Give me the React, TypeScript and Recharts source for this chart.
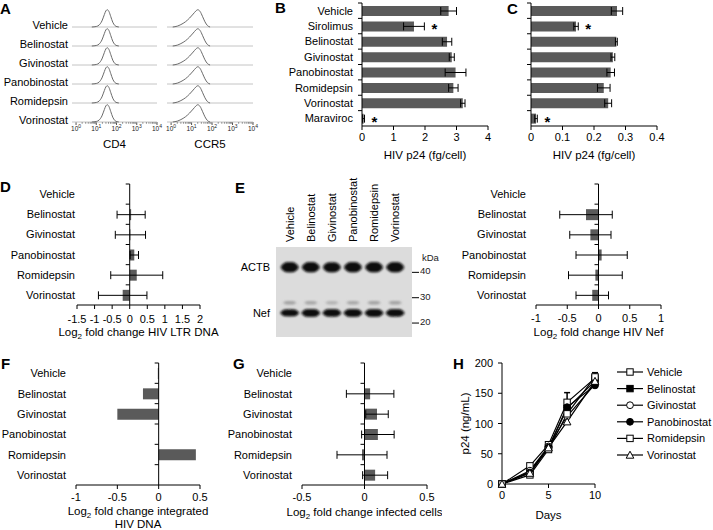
import React from 'react'
import {
  Bar,
  BarChart,
  ErrorBar,
  Label,
  LabelList,
  Line,
  LineChart,
  ReferenceArea,
  ReferenceLine,
  Scatter,
  ScatterChart,
  XAxis,
  YAxis,
} from 'recharts'

const FONT = '"Liberation Sans", Arial, Helvetica, sans-serif'
const BAR_FILL = '#5a5a5a'

// --- A: flow histograms (relative counts)
const treatments = ['Vehicle', 'Belinostat', 'Givinostat', 'Panobinostat', 'Romidepsin', 'Vorinostat']
const cd4X = [6, 10, 14, 19, 25, 30, 35, 42, 52, 65, 82, 105, 130]
const cd4Y = [0, 3, 12, 35, 72, 94, 100, 90, 60, 28, 9, 2, 0]
const ccr5X = [1.2, 2, 3, 5, 8, 12, 16, 20, 26, 34, 45, 60, 80]
const ccr5Y = [0, 5, 14, 30, 52, 75, 92, 100, 90, 62, 30, 8, 0]
const logMajor = [1, 10, 100, 1000, 10000]
const logMinorSteps = [2, 3, 4, 5, 6, 7, 8, 9]

// --- B, C: p24
const groupsBC = ['Vehicle', 'Sirolimus', 'Belinostat', 'Givinostat', 'Panobinostat', 'Romidepsin', 'Vorinostat', 'Maraviroc']
const p24Mean = [2.75, 1.65, 2.7, 2.85, 2.97, 2.9, 3.2, 0.05]
const p24Sem = [0.25, 0.33, 0.15, 0.08, 0.33, 0.15, 0.07, 0.03]
const p24CellMean = [0.273, 0.143, 0.271, 0.26, 0.253, 0.231, 0.245, 0.016]
const p24CellSem = [0.018, 0.007, 0.003, 0.006, 0.012, 0.02, 0.011, 0.004]
const significant = ['Sirolimus', 'Maraviroc']

// --- D, E, F, G: log2 fold changes vs vehicle
const ltrMean = [0, 0.04, 0.02, 0.13, 0.2, -0.2]
const ltrErr = [0, 0.4, 0.43, 0.12, 0.74, 0.69]
const nefMean = [0, -0.2, -0.13, 0.05, -0.05, -0.1]
const nefErr = [0, 0.42, 0.33, 0.41, 0.43, 0.26]
const integratedMean = [-0.01, -0.19, -0.5, 0, 0.45, 0]
const infectedMean = [0, 0.045, 0.1, 0.107, -0.02, 0.085]
const infectedErr = [0, 0.19, 0.09, 0.13, 0.2, 0.1]

// --- E: western blot
const bandNames = ['ACTB', 'Nef']
const bandKda = [42, 24]
const upperNefKda = 28
const markerKda = [40, 30, 20]
const actbLevel = [1, 1, 0.95, 1, 1, 1]
const nefLevel = [0.7, 1, 0.9, 1, 1, 0.95]
const upperNefLevel = [0.45, 0.4, 0.3, 0.4, 0.45, 0.45]

// --- H: p24 over time
const days = [0, 3, 5, 7, 10]
const hVehicle = [0, 30, 65, 135, 175]
const hBelinostat = [0, 20, 60, 125, 170]
const hGivinostat = [0, 22, 62, 112, 165]
const hPanobinostat = [0, 19, 60, 127, 163]
const hRomidepsin = [0, 15, 57, 116, 177]
const hVorinostat = [0, 18, 60, 103, 170]
const hVehicleErr = [0, 3, 4, 16, 9]
const hNames = ['Vehicle', 'Belinostat', 'Givinostat', 'Panobinostat', 'Romidepsin', 'Vorinostat']
const hMarkers = ['sqOpen', 'sqFill', 'ciOpen', 'ciFill', 'sqOpen', 'triOpen']

type Row = { name: string; v: number; e?: number; star?: boolean }

const LOG_DOMAIN: [number, number] = [0.63, 10000]
const logTicks = [
  ...logMajor,
  ...logMajor.slice(0, -1).flatMap((d) => logMinorSteps.map((m) => d * m)),
].sort((a, b) => a - b)

function TitleText({ x, y, line }: { x: number; y: number; line: string }) {
  if (line.startsWith('Log2')) {
    return (
      <text x={x} y={y} textAnchor="middle" fontSize={11.5} fill="#000">
        Log
        <tspan dy={3} fontSize={8}>2</tspan>
        <tspan dy={-3}>{line.slice(4)}</tspan>
      </text>
    )
  }
  return (
    <text x={x} y={y} textAnchor="middle" fontSize={11.5} fill="#000">
      {line}
    </text>
  )
}

// x-axis title, centred under the plot; dy is the centre of the first line below the axis
const titleContent = (lines: string[], dy: number, gap = 13) => (p: any) => {
  const vb = p.viewBox
  const cx = vb.x + vb.width / 2
  return (
    <g>
      {lines.map((l, i) => (
        <TitleText key={l} x={cx} y={vb.y + dy + 4 + i * gap} line={l} />
      ))}
    </g>
  )
}

const LogTick = (p: any) => {
  const v = p.payload.value
  const e = Math.log10(v)
  const major = Math.abs(e - Math.round(e)) < 1e-6
  return (
    <g>
      <line x1={p.x} x2={p.x} y1={p.y} y2={p.y + (major ? 3 : 1.5)} stroke="#555" />
      {major && (
        <text x={p.x} y={p.y + 9} textAnchor="middle" fontSize={6.5} fill="#222">
          10
          <tspan dy={-3} fontSize={5}>
            {Math.round(e)}
          </tspan>
        </text>
      )}
    </g>
  )
}

const XNumTick = (p: any) => (
  <text x={p.x} y={p.y + 8} textAnchor="middle" fontSize={11} fill="#000">
    {p.payload.value}
  </text>
)

const YNumTick = (p: any) => (
  <text x={p.x} y={p.y + 4} textAnchor="end" fontSize={11} fill="#000">
    {p.payload.value}
  </text>
)

const NameTick = (p: any) => (
  <text x={p.x} y={p.y + 4} textAnchor="end" fontSize={11} fill="#000">
    {p.payload.value}
  </text>
)

// vertical axis drawn at x = 0, with ticks between categories
const zeroAxis = (n: number) => (p: any) => {
  const x = p.x1
  const top = Math.min(p.y1, p.y2)
  const bot = Math.max(p.y1, p.y2)
  const band = (bot - top) / n
  return (
    <g>
      <line x1={x} x2={x} y1={top} y2={bot} stroke="#000" />
      {Array.from({ length: n }, (_, i) => (
        <line key={i} x1={x - 4} x2={x} y1={top + i * band} y2={top + i * band} stroke="#000" />
      ))}
    </g>
  )
}

const starLabel = (rows: Row[], gap: number) => (p: any) => {
  const r = rows.find((d) => d.name === p.value)
  if (!r || !r.star) return null
  const vb = p.viewBox ?? p
  const ppu = vb.width / r.v
  const cx = vb.x + (r.v + (r.e ?? 0)) * ppu + gap
  return (
    <text x={cx} y={vb.y + vb.height / 2 + 8} textAnchor="middle" fontSize={15} fontWeight="bold" fill="#000">
      *
    </text>
  )
}

interface HBarProps {
  left: number
  top: number
  width: number
  height: number
  margin: { top: number; right: number; bottom: number; left: number }
  yw: number
  xh: number
  rows: Row[]
  domain: [number, number]
  ticks: number[]
  barSize: number
  showNames?: boolean
  nameGap?: number
  tickGap: number
  title: string[]
  titleDy: number
  titleGap?: number
  errors?: boolean
  stars?: boolean
}

function HBar({
  left,
  top,
  width,
  height,
  margin,
  yw,
  xh,
  rows,
  domain,
  ticks,
  barSize,
  showNames = true,
  nameGap = 2,
  tickGap,
  title,
  titleDy,
  titleGap = 13,
  errors = true,
  stars = false,
}: HBarProps) {
  return (
    <div style={{ position: 'absolute', left, top }}>
      <BarChart width={width} height={height} data={rows} layout="vertical" margin={margin} barCategoryGap={0}>
        <XAxis
          type="number"
          domain={domain}
          ticks={ticks}
          interval={0}
          allowDataOverflow
          height={xh}
          tickSize={4}
          tickMargin={tickGap}
          axisLine={{ stroke: '#000' }}
          tickLine={{ stroke: '#000' }}
          tick={XNumTick}
        >
          <Label content={titleContent(title, titleDy, titleGap)} />
        </XAxis>
        <YAxis
          type="category"
          dataKey="name"
          width={yw}
          hide={!showNames}
          axisLine={false}
          tickLine={false}
          tickSize={0}
          tickMargin={nameGap}
          interval={0}
          tick={NameTick}
        />
        <Bar dataKey="v" fill={BAR_FILL} barSize={barSize} isAnimationActive={false}>
          {errors && <ErrorBar dataKey="e" width={4} stroke="#000" strokeWidth={1} direction="x" />}
          {stars && <LabelList dataKey="name" content={starLabel(rows, 10)} />}
        </Bar>
        <ReferenceLine x={0} shape={zeroAxis(rows.length)} ifOverflow="visible" />
      </BarChart>
    </div>
  )
}

function HistPanel({ left, width, xs, ys, title }: { left: number; width: number; xs: number[]; ys: number[]; title: string }) {
  const curve = xs.map((x, i) => ({ x, y: ys[i] }))
  return (
    <>
      <div style={{ position: 'absolute', left: left - 8, top: 0 }}>
        <LineChart width={width + 16} height={157} data={curve} margin={{ top: 5, right: 8, bottom: 0, left: 8 }}>
          <XAxis
            type="number"
            dataKey="x"
            scale="log"
            domain={LOG_DOMAIN}
            allowDataOverflow
            ticks={logTicks}
            interval={0}
            tickSize={0}
            tickMargin={0}
            axisLine={false}
            tickLine={false}
            tick={LogTick}
            height={35}
          >
            <Label content={titleContent([title], 22)} />
          </XAxis>
          <YAxis hide type="number" domain={[0, 1]} />
          <ReferenceArea
            x1={LOG_DOMAIN[0]}
            x2={LOG_DOMAIN[1]}
            y1={0}
            y2={1}
            fill="none"
            stroke="#444"
            ifOverflow="visible"
          />
        </LineChart>
      </div>
      {treatments.map((t, i) => (
        <div key={t} style={{ position: 'absolute', left, top: 8 + 19 * i }}>
          <LineChart width={width} height={20} data={curve} margin={{ top: 0, right: 0, bottom: 1, left: 0 }}>
            <XAxis hide type="number" dataKey="x" scale="log" domain={LOG_DOMAIN} allowDataOverflow />
            <YAxis hide type="number" domain={[0, 110]} />
            <ReferenceLine y={0} stroke="#c4c4c4" />
            <Line dataKey="y" type="monotone" stroke="#6a6a6a" strokeWidth={1} dot={false} isAnimationActive={false} />
          </LineChart>
        </div>
      ))}
    </>
  )
}

function Marker({ kind, cx, cy }: { kind: string; cx: number; cy: number }) {
  if (cx == null || cy == null) return null
  switch (kind) {
    case 'sqFill':
      return <rect x={cx - 3.2} y={cy - 3.2} width={6.4} height={6.4} fill="#000" stroke="#000" />
    case 'ciOpen':
      return <circle cx={cx} cy={cy} r={3.4} fill="#fff" stroke="#000" />
    case 'ciFill':
      return <circle cx={cx} cy={cy} r={3.4} fill="#000" stroke="#000" />
    case 'triOpen':
      return (
        <polygon
          points={`${cx},${cy - 3.8} ${cx + 3.8},${cy + 3.2} ${cx - 3.8},${cy + 3.2}`}
          fill="#fff"
          stroke="#000"
        />
      )
    default:
      return <rect x={cx - 3.2} y={cy - 3.2} width={6.4} height={6.4} fill="#fff" stroke="#000" />
  }
}

const LaneTick = (p: any) => (
  <text
    x={p.x}
    y={p.y}
    transform={`rotate(-90 ${p.x} ${p.y})`}
    textAnchor="start"
    dominantBaseline="central"
    fontSize={11}
    fill="#000"
  >
    {treatments[p.payload.value]}
  </text>
)

const BandTick = (p: any) => (
  <text x={p.x} y={p.y + 4} textAnchor="end" fontSize={11} fill="#000">
    {bandNames[bandKda.indexOf(p.payload.value)]}
  </text>
)

const MarkerTick = (p: any) => (
  <text x={p.x} y={p.y + 2} textAnchor="start" fontSize={9.5} fill="#222">
    {p.payload.value}
  </text>
)

const bandShape = (w: number, h: number, color: string, scaleHeight: boolean) => (p: any) => {
  const lvl = p.payload.level
  const hh = scaleHeight ? h * (0.6 + 0.4 * lvl) : h
  return (
    <g filter="url(#blotSoft)">
      <ellipse cx={p.cx} cy={p.cy} rx={w / 2} ry={hh / 2} fill={color} fillOpacity={scaleHeight ? 0.9 : lvl} />
      <rect
        x={p.cx - w / 2 + 2}
        y={p.cy - hh / 2}
        width={w - 4}
        height={hh}
        rx={hh / 2.4}
        fill={color}
        fillOpacity={scaleHeight ? 1 : lvl}
      />
    </g>
  )
}

function Letter({ ch, left, top }: { ch: string; left: number; top: number }) {
  return (
    <div style={{ position: 'absolute', left, top, fontSize: 15, fontWeight: 'bold', lineHeight: '15px' }}>{ch}</div>
  )
}

export default function App() {
  const rowsB: Row[] = groupsBC.map((name, i) => ({
    name,
    v: p24Mean[i],
    e: p24Sem[i],
    star: significant.includes(name),
  }))
  const rowsC: Row[] = groupsBC.map((name, i) => ({
    name,
    v: p24CellMean[i],
    e: p24CellSem[i],
    star: significant.includes(name),
  }))
  const rowsD: Row[] = treatments.map((name, i) => ({ name, v: ltrMean[i], e: ltrErr[i] }))
  const rowsE: Row[] = treatments.map((name, i) => ({ name, v: nefMean[i], e: nefErr[i] }))
  const rowsF: Row[] = treatments.map((name, i) => ({ name, v: integratedMean[i] }))
  const rowsG: Row[] = treatments.map((name, i) => ({ name, v: infectedMean[i], e: infectedErr[i] }))

  const actbPts = treatments.map((_, i) => ({ lane: i, kda: bandKda[0], level: actbLevel[i] }))
  const nefPts = treatments.map((_, i) => ({ lane: i, kda: bandKda[1], level: nefLevel[i] }))
  const upperPts = treatments.map((_, i) => ({ lane: i, kda: upperNefKda, level: upperNefLevel[i] }))

  const hSeriesValues = [hVehicle, hBelinostat, hGivinostat, hPanobinostat, hRomidepsin, hVorinostat]
  const hTable = days.map((day, i) => {
    const row: Record<string, number> = { day, VehicleErr: hVehicleErr[i] }
    hNames.forEach((n, k) => {
      row[n] = hSeriesValues[k][i]
    })
    return row
  })

  const fgMargin = { top: 13, right: 15, bottom: 0, left: 0 }

  return (
    <div
      style={{
        position: 'fixed',
        left: 0,
        top: 0,
        width: 713,
        height: 530,
        background: '#fff',
        overflow: 'hidden',
        fontFamily: FONT,
        color: '#000',
      }}
    >
      <svg width={0} height={0} style={{ position: 'absolute' }}>
        <defs>
          <filter id="blotSoft" x="-20%" y="-60%" width="140%" height="220%">
            <feGaussianBlur stdDeviation="0.8" />
          </filter>
        </defs>
      </svg>

      <Letter ch="A" left={0} top={1} />
      <Letter ch="B" left={275} top={0} />
      <Letter ch="C" left={507} top={1} />
      <Letter ch="D" left={0} top={179} />
      <Letter ch="E" left={235} top={180} />
      <Letter ch="F" left={1} top={356} />
      <Letter ch="G" left={233} top={356} />
      <Letter ch="H" left={453} top={356} />

      {/* A */}
      {treatments.map((t, i) => (
        <div
          key={t}
          style={{
            position: 'absolute',
            left: 0,
            width: 68,
            top: 25 + 19 * i - 7,
            textAlign: 'right',
            fontSize: 11,
            lineHeight: '14px',
            whiteSpace: 'nowrap',
          }}
        >
          {t}
        </div>
      ))}
      <HistPanel left={72} width={85} xs={cd4X} ys={cd4Y} title="CD4" />
      <HistPanel left={167} width={86} xs={ccr5X} ys={ccr5Y} title="CCR5" />

      {/* B */}
      <HBar
        left={262}
        top={0}
        width={238}
        height={166}
        margin={{ top: 3, right: 12, bottom: 0, left: 0 }}
        yw={100}
        xh={40}
        rows={rowsB}
        domain={[0, 4]}
        ticks={[0, 1, 2, 3, 4]}
        barSize={10}
        nameGap={9}
        tickGap={3}
        title={['HIV p24 (fg/cell)']}
        titleDy={29}
        stars
      />

      {/* C */}
      <HBar
        left={511}
        top={0}
        width={161}
        height={166}
        margin={{ top: 3, right: 15, bottom: 0, left: 20 }}
        yw={0}
        xh={40}
        rows={rowsC}
        domain={[0, 0.4]}
        ticks={[0, 0.1, 0.2, 0.3, 0.4]}
        barSize={10}
        showNames={false}
        tickGap={3}
        title={['HIV p24 (fg/cell)']}
        titleDy={29}
        stars
      />

      {/* D */}
      <HBar
        left={0}
        top={170}
        width={240}
        height={180}
        margin={{ top: 14, right: 40, bottom: 0, left: 0 }}
        yw={77}
        xh={45}
        rows={rowsD}
        domain={[-1.5, 2]}
        ticks={[-1.5, -1, -0.5, 0, 0.5, 1, 1.5, 2]}
        barSize={11}
        nameGap={2}
        tickGap={6}
        title={['Log2 fold change HIV LTR DNA']}
        titleDy={27}
      />

      {/* E blot */}
      <div style={{ position: 'absolute', left: 236, top: 170 }}>
        <ScatterChart width={206} height={172} margin={{ top: 0, right: 0, bottom: 5, left: 0 }}>
          <XAxis
            type="number"
            dataKey="lane"
            orientation="top"
            domain={[-0.65, 5.8]}
            ticks={[0, 1, 2, 3, 4, 5]}
            interval={0}
            allowDataOverflow
            height={77}
            axisLine={false}
            tickLine={false}
            tickSize={0}
            tickMargin={5}
            tick={LaneTick}
          />
          <YAxis
            yAxisId="l"
            type="number"
            dataKey="kda"
            domain={[14.5, 50]}
            ticks={bandKda}
            interval={0}
            allowDataOverflow
            width={40}
            axisLine={false}
            tickLine={false}
            tickSize={0}
            tickMargin={6}
            tick={BandTick}
          />
          <YAxis
            yAxisId="r"
            orientation="right"
            type="number"
            dataKey="kda"
            domain={[14.5, 50]}
            ticks={markerKda}
            interval={0}
            allowDataOverflow
            width={30}
            axisLine={false}
            tickLine={{ stroke: '#000' }}
            tickSize={7}
            tickMargin={1}
            tick={MarkerTick}
          >
            <Label
              content={(p: any) => (
                <text x={p.viewBox.x + 10} y={p.viewBox.y + 14} fontSize={9.5} fill="#222">
                  kDa
                </text>
              )}
            />
          </YAxis>
          <ReferenceArea
            yAxisId="r"
            x1={-0.65}
            x2={5.8}
            y1={14.5}
            y2={50}
            fill="#dcdcdc"
            fillOpacity={1}
            stroke="none"
          />
          <Scatter yAxisId="r" data={upperPts} shape={bandShape(14, 3.5, '#8a8a8a', false)} isAnimationActive={false} />
          <Scatter yAxisId="r" data={actbPts} shape={bandShape(18, 10, '#0b0b0b', true)} isAnimationActive={false} />
          <Scatter yAxisId="r" data={nefPts} shape={bandShape(19, 7.5, '#0b0b0b', true)} isAnimationActive={false} />
        </ScatterChart>
      </div>

      {/* E Nef */}
      <HBar
        left={440}
        top={170}
        width={236}
        height={180}
        margin={{ top: 14, right: 15, bottom: 0, left: 0 }}
        yw={96}
        xh={45}
        rows={rowsE}
        domain={[-1, 1]}
        ticks={[-1, -0.5, 0, 0.5, 1]}
        barSize={11}
        nameGap={10}
        tickGap={5}
        title={['Log2 fold change HIV Nef']}
        titleDy={27}
      />

      {/* F */}
      <HBar
        left={0}
        top={350}
        width={215}
        height={180}
        margin={fgMargin}
        yw={76}
        xh={45}
        rows={rowsF}
        domain={[-1, 0.5]}
        ticks={[-1, -0.5, 0, 0.5]}
        barSize={11}
        nameGap={10}
        tickGap={4}
        title={['Log2 fold change integrated', 'HIV DNA']}
        titleDy={26}
        titleGap={13}
        errors={false}
      />

      {/* G */}
      <HBar
        left={206}
        top={350}
        width={236}
        height={180}
        margin={fgMargin}
        yw={96}
        xh={45}
        rows={rowsG}
        domain={[-0.5, 0.5]}
        ticks={[-0.5, 0, 0.5]}
        barSize={11}
        nameGap={10}
        tickGap={4}
        title={['Log2 fold change infected cells']}
        titleDy={27}
      />

      {/* H */}
      <div style={{ position: 'absolute', left: 450, top: 355 }}>
        <LineChart width={160} height={169} data={hTable} margin={{ top: 8, right: 15, bottom: 0, left: 0 }}>
          <XAxis
            dataKey="day"
            type="number"
            domain={[0, 10]}
            ticks={[0, 5, 10]}
            interval={0}
            height={40}
            tickSize={4}
            tickMargin={3}
            axisLine={{ stroke: '#000' }}
            tickLine={{ stroke: '#000' }}
            tick={XNumTick}
          >
            <Label content={titleContent(['Days'], 31)} />
          </XAxis>
          <YAxis
            type="number"
            domain={[0, 200]}
            ticks={[0, 50, 100, 150, 200]}
            interval={0}
            width={52}
            tickSize={4}
            tickMargin={5}
            axisLine={{ stroke: '#000' }}
            tickLine={{ stroke: '#000' }}
            tick={YNumTick}
          >
            <Label
              content={(p: any) => {
                const x = p.viewBox.x + 15
                const y = p.viewBox.y + p.viewBox.height / 2
                return (
                  <text x={x} y={y} transform={`rotate(-90 ${x} ${y})`} textAnchor="middle" dominantBaseline="central" fontSize={11.5} fill="#000">
                    p24 (ng/mL)
                  </text>
                )
              }}
            />
          </YAxis>
          {hNames.map((n, k) => (
            <Line
              key={n}
              dataKey={n}
              type="linear"
              stroke="#000"
              strokeWidth={1.2}
              isAnimationActive={false}
              dot={(p: any) => <Marker key={`${n}-${p.index}`} kind={hMarkers[k]} cx={p.cx} cy={p.cy} />}
            >
              {n === 'Vehicle' && <ErrorBar dataKey="VehicleErr" width={3} direction="y" stroke="#000" />}
            </Line>
          ))}
        </LineChart>
      </div>
      <svg width={103} height={110} style={{ position: 'absolute', left: 610, top: 362 }}>
        {hNames.map((n, k) => {
          const y = 10 + k * 16.6
          return (
            <g key={n}>
              <line x1={7} x2={33} y1={y} y2={y} stroke="#000" strokeWidth={1.2} />
              <Marker kind={hMarkers[k]} cx={20} cy={y} />
              <text x={37} y={y + 4} fontSize={11} fill="#000">
                {n}
              </text>
            </g>
          )
        })}
      </svg>
    </div>
  )
}
